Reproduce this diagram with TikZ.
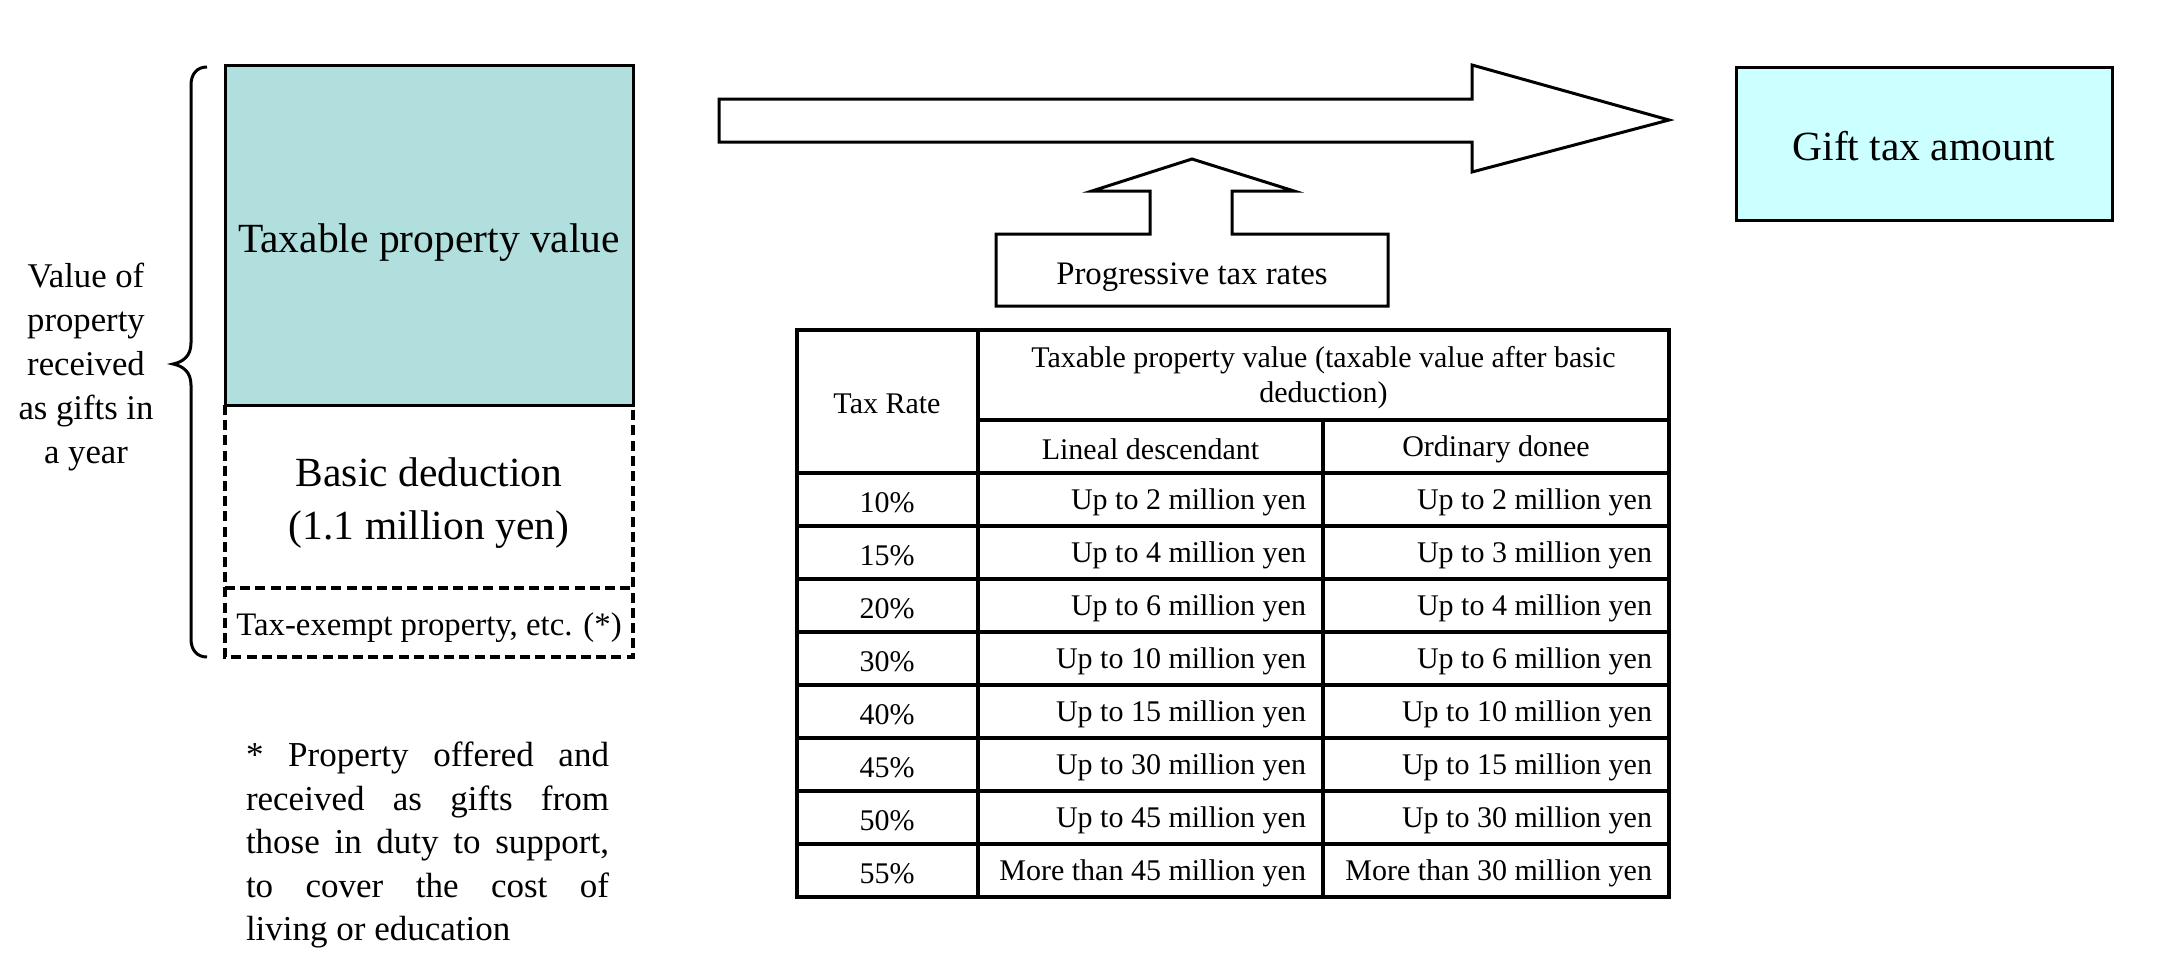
\documentclass[tikz,border=0pt]{standalone}
\usepackage{fontspec}
\setmainfont{Liberation Serif}
\definecolor{tealfill}{RGB}{176,223,221}
\definecolor{giftfill}{RGB}{204,255,255}
\newcommand\fbig{\fontsize{20.75pt}{26.5pt}\selectfont}
\newcommand\flab{\fontsize{17.35pt}{22pt}\selectfont}
\newcommand\fmid{\fontsize{16.4pt}{20pt}\selectfont}
\newcommand\ftab{\fontsize{15pt}{17.5pt}\selectfont}
\newcommand\fnote{\fontsize{17.5pt}{21.75pt}\selectfont}
\tikzset{
  outl/.style={line width=1.5pt, line join=miter},
  dashline/.style={line width=1.6pt, dash pattern=on 5pt off 2.6pt},
  txt/.style={inner sep=0pt, outer sep=0pt},
  tabtxt/.style={inner sep=0pt, outer sep=0pt, font=\ftab},
  gridline/.style={line width=1.6pt}
}
\begin{document}
\begin{tikzpicture}[x=0.5pt, y=-0.5pt]
\useasboundingbox (0,0) rectangle (2181,969);

% dashed lower parts
\coordinate (dTL) at (225,405);
\coordinate (dTR) at (633,405);
\coordinate (dBL) at (225,657);
\coordinate (dBR) at (633,657);
\coordinate (dML) at (225,588);
\coordinate (dMR) at (633,588);
\draw[dashline] (dTL) -- (dBL) -- (dBR) -- (dTR);
\draw[dashline] (dML) -- (dMR);
\node[txt, align=center, font=\fbig] (basic) at (429,503.5) {Basic deduction\\(1.1 million yen)};
\node[txt, font=\fmid] (exempt) at (429,628) {Tax-exempt property, etc. (*)};
% taxable box
\node[draw, outl, fill=tealfill, txt, minimum width=204pt, minimum height=170pt] (taxable) at (429,235) {};
\node[txt, font=\fbig] (taxtext) at (429,243) {Taxable property value};

% brace
\draw[line width=1.5pt] (207,67) .. controls (197,67) and (191,74) .. (191,85)
  -- (191,343) .. controls (191,356) and (183,362) .. (173,364)
  .. controls (183,366) and (191,372) .. (191,385)
  -- (191,639) .. controls (191,650) and (197,657) .. (207,657);
\node[txt, align=center, font=\flab] (value) at (86,367.5) {Value of\\property\\received\\as gifts in\\a year};

% footnote
\node[txt, anchor=north west, text width=181.5pt, align=justify, font=\fnote] (note) at (246,742)
 {\noindent * Property offered and\linebreak received as gifts from\linebreak those in duty to support,\linebreak to cover the cost of\linebreak living or education};

% big arrow
\draw[outl, fill=white] (719,99) -- (1472,99) -- (1472,65) -- (1669,120) -- (1472,172) -- (1472,142) -- (719,142) -- cycle;

% progressive box with up arrow
\draw[outl, fill=white] (996,306) -- (996,234) -- (1150,234) -- (1150,191) -- (1092,191) -- (1192,159) -- (1294,191) -- (1232,191) -- (1232,234) -- (1388,234) -- (1388,306) -- cycle;
\node[txt, font=\fmid] (prog) at (1192,277) {Progressive tax rates};

% gift tax amount
\node[draw, outl, fill=giftfill, txt, minimum width=188pt, minimum height=76.5pt] (gift) at (1924,143.5) {};
\node[txt, font=\fbig] (gifttext) at (1924,146) {Gift tax amount};

% table grid
\draw[gridline] (797,330) rectangle (1669,897);
\draw[gridline] (978,330) -- (978,897);
\draw[gridline] (1323,420) -- (1323,897);
\draw[gridline] (978,420) -- (1669,420);
\foreach \k in {0,...,7} {
  \draw[gridline] (797,473+53*\k) -- (1669,473+53*\k);
}
% header texts
\node[tabtxt] (hrate) at (887,404) {Tax Rate};
\node[tabtxt, align=center] (hval) at (1323.5,378) {Taxable property value (taxable value after basic\\deduction)};
\node[tabtxt] (hlin) at (1150.5,449) {Lineal descendant};
\node[tabtxt] (hord) at (1496,449) {Ordinary donee};
% rows
\foreach \i/\r/\a/\b in {
  1/10\%/Up to 2 million yen/Up to 2 million yen,
  2/15\%/Up to 4 million yen/Up to 3 million yen,
  3/20\%/Up to 6 million yen/Up to 4 million yen,
  4/30\%/Up to 10 million yen/Up to 6 million yen,
  5/40\%/Up to 15 million yen/Up to 10 million yen,
  6/45\%/Up to 30 million yen/Up to 15 million yen,
  7/50\%/Up to 45 million yen/Up to 30 million yen,
  8/55\%/More than 45 million yen/More than 30 million yen} {
  \node[tabtxt] (rate\i) at (887,449.5+53*\i) {\r};
  \node[tabtxt, anchor=east] (lin\i) at (1306,449.5+53*\i) {\a};
  \node[tabtxt, anchor=east] (ord\i) at (1652,449.5+53*\i) {\b};
}
\end{tikzpicture}
\end{document}
